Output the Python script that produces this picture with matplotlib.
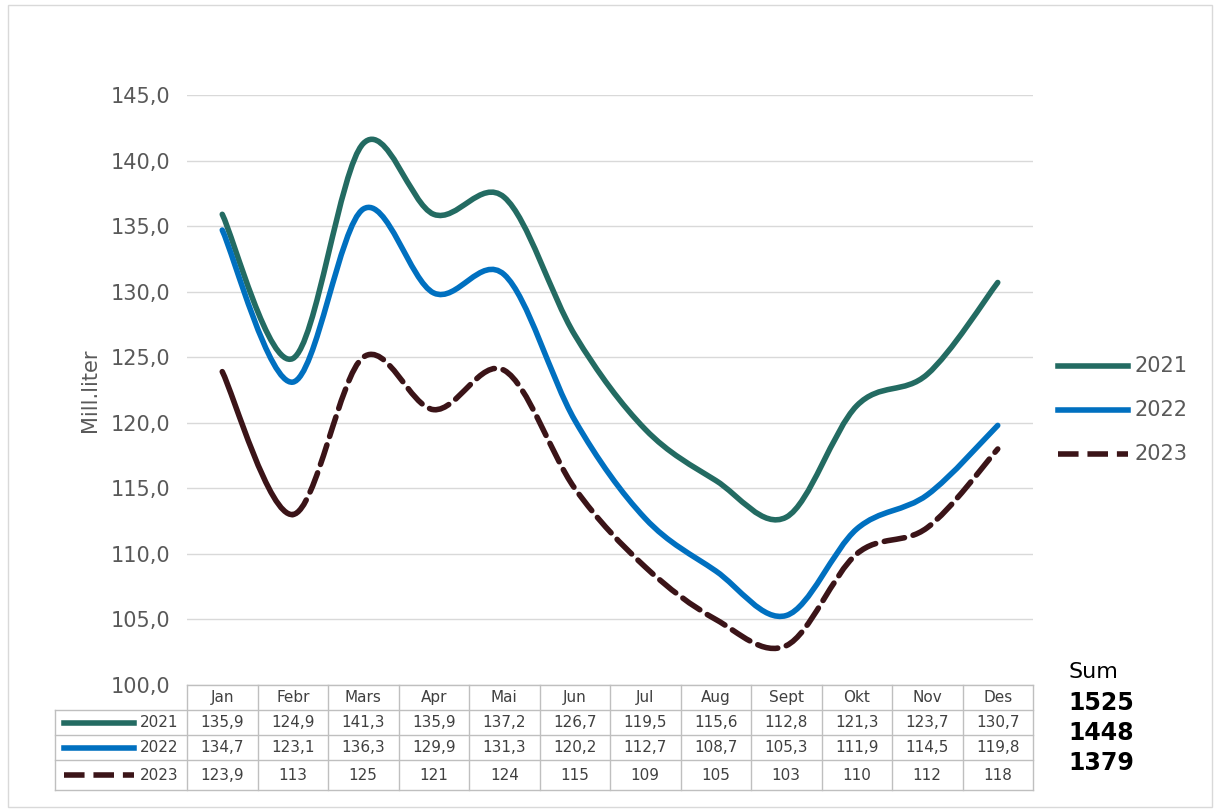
import matplotlib
matplotlib.use("Agg")
import matplotlib.pyplot as plt
from matplotlib.path import Path
from matplotlib.patches import PathPatch, Rectangle
from matplotlib.lines import Line2D

months = ["Jan", "Febr", "Mars", "Apr", "Mai", "Jun", "Jul", "Aug", "Sept", "Okt", "Nov", "Des"]
v2021 = [135.9, 124.9, 141.3, 135.9, 137.2, 126.7, 119.5, 115.6, 112.8, 121.3, 123.7, 130.7]
v2022 = [134.7, 123.1, 136.3, 129.9, 131.3, 120.2, 112.7, 108.7, 105.3, 111.9, 114.5, 119.8]
v2023 = [123.9, 113, 125, 121, 124, 115, 109, 105, 103, 110, 112, 118]
labels_2021 = ["135,9", "124,9", "141,3", "135,9", "137,2", "126,7", "119,5", "115,6", "112,8", "121,3", "123,7", "130,7"]
labels_2022 = ["134,7", "123,1", "136,3", "129,9", "131,3", "120,2", "112,7", "108,7", "105,3", "111,9", "114,5", "119,8"]
labels_2023 = ["123,9", "113", "125", "121", "124", "115", "109", "105", "103", "110", "112", "118"]
sums = ["1525", "1448", "1379"]

series = [("2021", v2021, labels_2021, "#236b62", "-"),
          ("2022", v2022, labels_2022, "#0070c0", "-"),
          ("2023", v2023, labels_2023, "#3b1418", "--")]

W, H = 1218, 810
fig = plt.figure(figsize=(W / 100, H / 100), dpi=100)
fig.patches.append(Rectangle((8 / W, 3 / H), 1204 / W, 802 / H, transform=fig.transFigure,
                             fill=False, ec="#d9d9d9", lw=1))

L, R, B, T = 187, 1033, 685, 95
ax = fig.add_axes([L / W, 1 - B / H, (R - L) / W, (B - T) / H])
ax.set_xlim(0, 12)
ax.set_ylim(100, 145)
ax.set_yticks(range(100, 146, 5))
ax.set_yticklabels([f"{t},0" for t in range(100, 146, 5)], fontsize=15, color="#595959")
ax.set_xticks([])
ax.tick_params(axis="y", length=0, pad=12)
for s in ax.spines.values():
    s.set_visible(False)
ax.grid(axis="y", color="#d9d9d9", lw=1)
ax.set_axisbelow(True)
ax.set_ylabel("Mill.liter", fontsize=15, color="#595959", labelpad=8)


def smooth_path(xs, ys, start=0, stop=None, t=1 / 6):
    n = len(xs)
    stop = n - 1 if stop is None else stop
    verts = [(xs[start], ys[start])]
    codes = [Path.MOVETO]
    for i in range(start, stop):
        x0, y0 = (xs[i - 1], ys[i - 1]) if i > 0 else (xs[i], ys[i])
        x3, y3 = (xs[i + 2], ys[i + 2]) if i + 2 < n else (xs[i + 1], ys[i + 1])
        c1 = (xs[i] + (xs[i + 1] - x0) * t, ys[i] + (ys[i + 1] - y0) * t)
        c2 = (xs[i + 1] - (x3 - xs[i]) * t, ys[i + 1] - (y3 - ys[i]) * t)
        verts += [c1, c2, (xs[i + 1], ys[i + 1])]
        codes += [Path.CURVE4] * 3
    return Path(verts, codes)


xs = [i + 0.5 for i in range(12)]
for name, vals, _, col, ls in series:
    if ls == "--":
        # first segment is drawn solid in the original
        ax.add_patch(PathPatch(smooth_path(xs, vals, 0, 1), fill=False, ec=col, lw=4,
                               capstyle="round", joinstyle="round"))
        ax.add_patch(PathPatch(smooth_path(xs, vals, 1), fill=False, ec=col, lw=4,
                               ls=ls, capstyle="round", joinstyle="round"))
    else:
        ax.add_patch(PathPatch(smooth_path(xs, vals), fill=False, ec=col, lw=4,
                               ls=ls, capstyle="round", joinstyle="round"))

# data table
grid_col = "#bfbfbf"
row_y = [685, 710, 735, 760, 790]
colw = (R - L) / 12
fx = lambda p: p / W
fy = lambda p: 1 - p / H
for k in range(13):
    x = L + k * colw
    fig.add_artist(Line2D([fx(x)] * 2, [fy(685), fy(790)], color=grid_col, lw=1))
fig.add_artist(Line2D([fx(55)] * 2, [fy(710), fy(790)], color=grid_col, lw=1))
for k, y in enumerate(row_y):
    x0 = L if k == 0 else 55
    fig.add_artist(Line2D([fx(x0), fx(R)], [fy(y)] * 2, color=grid_col, lw=1))
for i, m in enumerate(months):
    fig.text(fx(L + (i + 0.5) * colw), fy(697.5), m, ha="center", va="center", fontsize=11, color="#404040")
for r, (name, vals, labs, col, ls) in enumerate(series):
    yc = (row_y[r + 1] + row_y[r + 2]) / 2
    fig.add_artist(Line2D([fx(64), fx(134)], [fy(yc)] * 2, color=col, lw=4, ls=ls))
    fig.text(fx(140), fy(yc), name, ha="left", va="center", fontsize=11, color="#404040")
    for i, s in enumerate(labs):
        fig.text(fx(L + (i + 0.5) * colw), fy(yc), s, ha="center", va="center", fontsize=11, color="#404040")

# legend
for r, (name, vals, labs, col, ls) in enumerate(series):
    y = 366 + r * 44
    fig.add_artist(Line2D([fx(1058), fx(1128)], [fy(y)] * 2, color=col, lw=4, ls=ls))
    fig.text(fx(1134), fy(y), name, ha="left", va="center", fontsize=15, color="#595959")

fig.text(fx(1068), fy(672), "Sum", ha="left", va="center", fontsize=16, color="black")
for r, s in enumerate(sums):
    fig.text(fx(1068), fy(703 + r * 30), s, ha="left", va="center", fontsize=17,
             fontweight="bold", color="black")

fig.savefig("out.png", dpi=100)
